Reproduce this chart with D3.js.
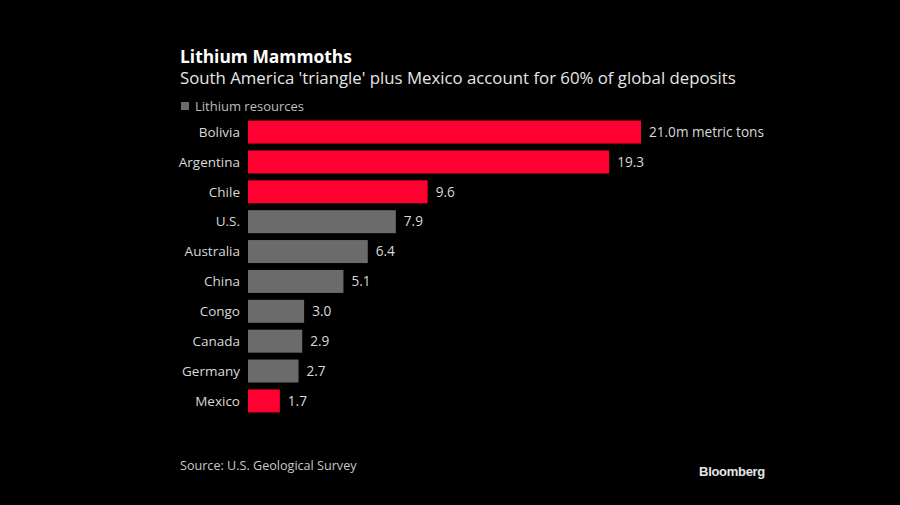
<!DOCTYPE html>
<html><head><meta charset="utf-8">
<script src="https://cdn.jsdelivr.net/npm/d3@7"></script>
<style>body{margin:0;background:#000;} svg{display:block;}</style>
</head><body>
<script>
const categories = ["Bolivia","Argentina","Chile","U.S.","Australia","China","Congo","Canada","Germany","Mexico"];
const values = [21.0,19.3,9.6,7.9,6.4,5.1,3.0,2.9,2.7,1.7];
const highlighted = ["Bolivia","Argentina","Chile","Mexico"];
const valueLabels = ["21.0m metric tons","19.3","9.6","7.9","6.4","5.1","3.0","2.9","2.7","1.7"];

const W=900,H=505;
const font="'Open Sans', sans-serif";
const svg=d3.select("body").append("svg").attr("width",W).attr("height",H).style("background","#000");

svg.append("text").attr("x",180).attr("y",63).text("Lithium Mammoths")
  .attr("fill","#fff").attr("font-family",font).attr("font-weight","bold").attr("font-size",17.4);
svg.append("text").attr("x",180).attr("y",84).text("South America 'triangle' plus Mexico account for 60% of global deposits")
  .attr("fill","#e6e6e6").attr("font-family",font).attr("font-size",16.8);
svg.append("rect").attr("x",181).attr("y",102).attr("width",8).attr("height",8).attr("fill","#6b6b6b");
svg.append("text").attr("x",195).attr("y",110.5).text("Lithium resources")
  .attr("fill","#bdbdbd").attr("font-family",font).attr("font-size",13);

const x=d3.scaleLinear().domain([0,21]).range([248,641]);
const y=d3.scaleBand().domain(categories).range([117,416]).paddingInner(0.23).paddingOuter(0.12);

svg.selectAll("rect.bar").data(categories).join("rect").attr("class","bar")
  .attr("x",x(0)).attr("y",d=>y(d)).attr("height",y.bandwidth())
  .attr("width",(d,i)=>x(values[i])-x(0))
  .attr("fill",d=>highlighted.includes(d)?"#ff0030":"#6b6b6b");

svg.selectAll("text.cat").data(categories).join("text").attr("class","cat")
  .attr("x",240).attr("y",d=>y(d)+y.bandwidth()/2).attr("dy","0.35em")
  .attr("text-anchor","end").text(d=>d)
  .attr("fill","#d9d9d9").attr("font-family",font).attr("font-size",13.5);

svg.selectAll("text.val").data(categories).join("text").attr("class","val")
  .attr("x",(d,i)=>x(values[i])+8).attr("y",d=>y(d)+y.bandwidth()/2).attr("dy","0.35em")
  .text((d,i)=>valueLabels[i])
  .attr("fill","#d9d9d9").attr("font-family",font).attr("font-size",13.6);

svg.append("text").attr("x",180).attr("y",470).text("Source: U.S. Geological Survey")
  .attr("fill","#c8c8c8").attr("font-family",font).attr("font-size",12.6);
svg.append("text").attr("x",765).attr("y",476).attr("text-anchor","end").text("Bloomberg")
  .attr("fill","#e6e6e6").attr("font-family","'Liberation Sans', Arial, sans-serif").attr("font-weight","bold").attr("font-size",13).attr("letter-spacing",-0.3);
</script>
</body></html>
